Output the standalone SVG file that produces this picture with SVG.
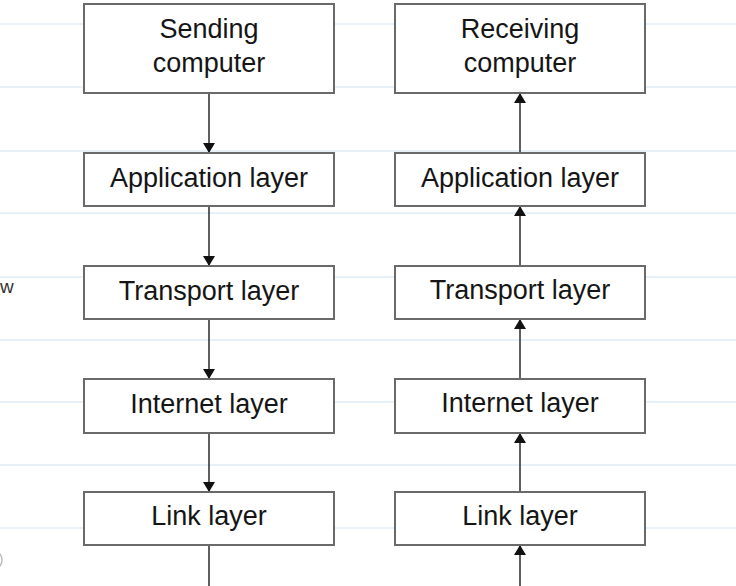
<svg xmlns="http://www.w3.org/2000/svg" width="736" height="586" viewBox="0 0 736 586">
  <style>
    .rule { stroke: #e6f1fa; stroke-width: 2; }
    .box { fill: #ffffff; stroke: #6a6a6a; stroke-width: 2; }
    .lbl { font-family: "Liberation Sans", Arial, sans-serif; font-size: 27px; fill: #151515; text-anchor: middle; }
    .conn { stroke: #2a2a2a; stroke-width: 1.5; fill: none; }
  </style>
  <defs>
    <marker id="ah" viewBox="0 0 10 12" refX="10" refY="6" markerWidth="10" markerHeight="12" markerUnits="userSpaceOnUse" orient="auto">
      <path d="M0,0 L10,6 L0,12 Z" fill="#111111"/>
    </marker>
  </defs>
  <rect x="0" y="0" width="736" height="586" fill="#ffffff"/>
  <g id="ruled-lines">
    <line class="rule" x1="0" y1="24" x2="736" y2="24"/>
    <line class="rule" x1="0" y1="87" x2="736" y2="87"/>
    <line class="rule" x1="0" y1="151" x2="736" y2="151"/>
    <line class="rule" x1="0" y1="213" x2="736" y2="213"/>
    <line class="rule" x1="0" y1="277" x2="736" y2="277"/>
    <line class="rule" x1="0" y1="340" x2="736" y2="340"/>
    <line class="rule" x1="0" y1="402" x2="736" y2="402"/>
    <line class="rule" x1="0" y1="465" x2="736" y2="465"/>
    <line class="rule" x1="0" y1="528" x2="736" y2="528"/>
  </g>
  <text x="0" y="293" font-family="Liberation Sans, Arial, sans-serif" font-size="19" fill="#333333">w</text>
  <ellipse cx="-8" cy="560" rx="10" ry="10" fill="none" stroke="#bbbbbb" stroke-width="1.5"/>
  <g id="connectors">
    <line class="conn" x1="209" y1="93" x2="209" y2="153" marker-end="url(#ah)"/>
    <line class="conn" x1="209" y1="206" x2="209" y2="266" marker-end="url(#ah)"/>
    <line class="conn" x1="209" y1="319" x2="209" y2="379" marker-end="url(#ah)"/>
    <line class="conn" x1="209" y1="433" x2="209" y2="492" marker-end="url(#ah)"/>
    <line class="conn" x1="209" y1="545" x2="209" y2="586"/>
    <line class="conn" x1="520" y1="153" x2="520" y2="93" marker-end="url(#ah)"/>
    <line class="conn" x1="520" y1="266" x2="520" y2="206" marker-end="url(#ah)"/>
    <line class="conn" x1="520" y1="379" x2="520" y2="319" marker-end="url(#ah)"/>
    <line class="conn" x1="520" y1="492" x2="520" y2="433" marker-end="url(#ah)"/>
    <line class="conn" x1="520" y1="590" x2="520" y2="545" marker-end="url(#ah)"/>
  </g>
  <g id="sending-computer">
    <rect class="box" x="84" y="4" width="250" height="89"/>
    <text class="lbl" x="209" y="38">Sending</text>
    <text class="lbl" x="209" y="72">computer</text>
  </g>
  <g id="send-application">
    <rect class="box" x="84" y="153" width="250" height="53"/>
    <text class="lbl" x="209" y="187">Application layer</text>
  </g>
  <g id="send-transport">
    <rect class="box" x="84" y="266" width="250" height="53"/>
    <text class="lbl" x="209" y="300">Transport layer</text>
  </g>
  <g id="send-internet">
    <rect class="box" x="84" y="379" width="250" height="54"/>
    <text class="lbl" x="209" y="413">Internet layer</text>
  </g>
  <g id="send-link">
    <rect class="box" x="84" y="492" width="250" height="53"/>
    <text class="lbl" x="209" y="525">Link layer</text>
  </g>
  <g id="receiving-computer">
    <rect class="box" x="395" y="4" width="250" height="89"/>
    <text class="lbl" x="520" y="38">Receiving</text>
    <text class="lbl" x="520" y="72">computer</text>
  </g>
  <g id="recv-application">
    <rect class="box" x="395" y="153" width="250" height="53"/>
    <text class="lbl" x="520" y="187">Application layer</text>
  </g>
  <g id="recv-transport">
    <rect class="box" x="395" y="266" width="250" height="53"/>
    <text class="lbl" x="520" y="299">Transport layer</text>
  </g>
  <g id="recv-internet">
    <rect class="box" x="395" y="379" width="250" height="54"/>
    <text class="lbl" x="520" y="412">Internet layer</text>
  </g>
  <g id="recv-link">
    <rect class="box" x="395" y="492" width="250" height="53"/>
    <text class="lbl" x="520" y="525">Link layer</text>
  </g>
</svg>
